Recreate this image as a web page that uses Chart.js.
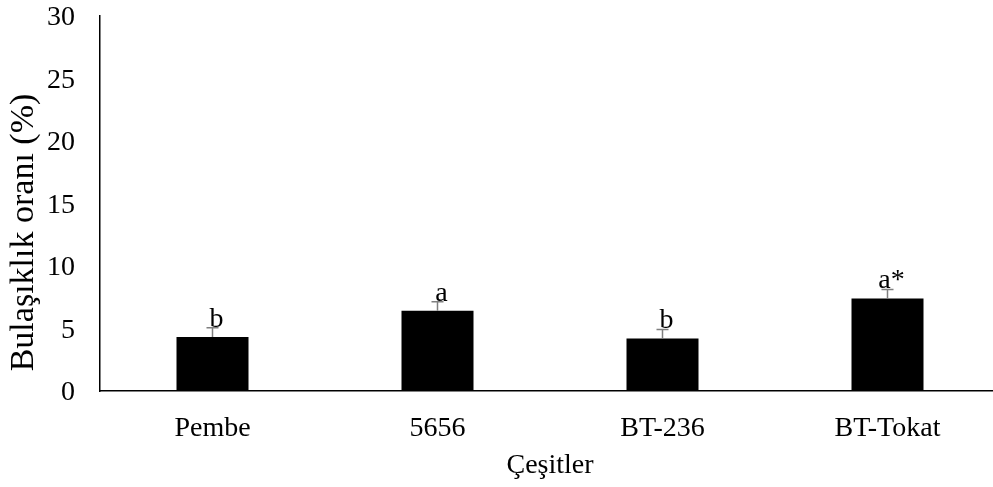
<!DOCTYPE html>
<html>
<head>
<meta charset="utf-8">
<script src="https://cdn.jsdelivr.net/npm/chart.js@4"></script>
<style>
  html, body { margin: 0; padding: 0; background: #fff; overflow: hidden; }
  #wrap { width: 1000px; height: 487px; position: relative; }
</style>
</head>
<body>
<div id="wrap"><canvas id="c"></canvas></div>
<script>
const categories = ['Pembe', '5656', 'BT-236', 'BT-Tokat'];
const values = [4.32, 6.42, 4.21, 7.41];
const errors = [0.75, 0.72, 0.72, 0.72];
const letters = ['b', 'a', 'b', 'a*'];
const yTicks = [0, 5, 10, 15, 20, 25, 30];
const xTitle = 'Çeşitler';
const yTitle = 'Bulaşıklık oranı (%)';

const FONT = "'Liberation Serif', 'Times New Roman', serif";
const FS = 28;
const YT_FS = 34;

const errorPlugin = {
  id: 'errorBars',
  afterDatasetsDraw(chart) {
    const ctx = chart.ctx;
    const meta = chart.getDatasetMeta(0);
    const y = chart.scales.y;
    ctx.save();
    meta.data.forEach((bar, i) => {
      const x = bar.x;
      const yTop = y.getPixelForValue(values[i] + errors[i]);
      const yBase = y.getPixelForValue(values[i]);
      ctx.strokeStyle = '#7f7f7f';
      ctx.lineWidth = 1.5;
      ctx.beginPath();
      ctx.moveTo(x, yBase);
      ctx.lineTo(x, yTop);
      ctx.moveTo(x - 6, yTop);
      ctx.lineTo(x + 6, yTop);
      ctx.stroke();
      ctx.fillStyle = '#000';
      ctx.font = FS + 'px ' + FONT;
      ctx.textAlign = 'center';
      ctx.textBaseline = 'alphabetic';
      ctx.fillText(letters[i], x + 4, yTop - 1);
    });
    ctx.restore();
  }
};

const yTitlePlugin = {
  id: 'yTitle',
  afterDraw(chart) {
    const ctx = chart.ctx;
    const area = chart.chartArea;
    ctx.save();
    ctx.translate(24, (area.top + area.bottom) / 2 + 29);
    ctx.rotate(-Math.PI / 2);
    ctx.fillStyle = '#000';
    ctx.font = YT_FS + 'px ' + FONT;
    ctx.textAlign = 'center';
    ctx.textBaseline = 'middle';
    ctx.fillText(yTitle, 0, 0);
    ctx.restore();
  }
};

new Chart(document.getElementById('c'), {
  type: 'bar',
  data: {
    labels: categories,
    datasets: [{
      data: values,
      backgroundColor: '#000',
      borderWidth: 0,
      categoryPercentage: 1,
      barPercentage: 0.32
    }]
  },
  options: {
    responsive: true,
    maintainAspectRatio: false,
    animation: false,
    layout: { autoPadding: false, padding: { top: 16, right: 0, bottom: 0, left: 0 } },
    plugins: { legend: { display: false }, tooltip: { enabled: false } },
    scales: {
      x: {
        grid: { display: false, drawTicks: false },
        border: { display: true, color: '#000', width: 1.5 },
        ticks: { color: '#000', font: { family: FONT, size: FS }, padding: 21, maxRotation: 0 },
        title: { display: true, text: xTitle, color: '#000', font: { family: FONT, size: FS }, padding: { top: 0, bottom: 5 } },
        afterFit(s) { s.height = 96; s.paddingLeft = 0; s.paddingRight = 0; }
      },
      y: {
        min: 0, max: 30,
        afterBuildTicks(s) { s.ticks = yTicks.map(v => ({ value: v })); },
        grid: { display: false, drawTicks: false },
        border: { display: true, color: '#000', width: 1.5 },
        ticks: { color: '#000', font: { family: FONT, size: FS }, padding: 25, labelOffset: 2 },
        title: { display: false, text: yTitle },
        afterFit(s) { s.width = 100; s.paddingTop = 0; s.paddingBottom = 0; }
      }
    }
  },
  plugins: [errorPlugin, yTitlePlugin]
});
</script>
</body>
</html>
